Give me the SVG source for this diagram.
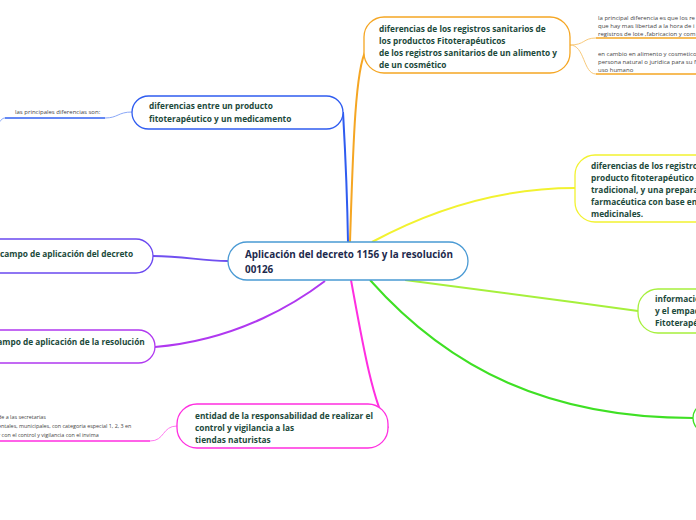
<svg xmlns="http://www.w3.org/2000/svg" width="696" height="520" viewBox="0 0 696 520">
<style>
.n{fill:#fff;stroke-width:1.3}
.t{font-family:"Open Sans","Noto Sans",sans-serif;font-weight:700;font-size:8.3px;fill:#1c4a3b}
.c{font-family:"Open Sans","Noto Sans",sans-serif;font-weight:700;font-size:9.9px;fill:#1d2a4d}
.s{font-family:"Open Sans","Noto Sans",sans-serif;font-size:5.4px;fill:#444}
.s6{font-size:6px}
.l{fill:none;stroke-width:2}
.b{fill:none;stroke-width:1}
</style>
<rect width="696" height="520" fill="#fff"/>
<g id="connectors">
<path class="l" stroke="#2f5cf0" d="M348,242 C347,180 344,130 343,112"/>
<path class="l" stroke="#f5a623" d="M350,242 C353,150 355,70 366,50"/>
<path class="l" stroke="#f2f230" d="M372,242 C450,200 520,188 575,188"/>
<path class="l" stroke="#a6f03c" d="M405,280 C480,290 560,300 638,311"/>
<path class="l" stroke="#3fe024" d="M370,280 C450,370 550,418 693,418"/>
<path class="l" stroke="#7050f0" d="M153,256 C185,256 200,261 228,261"/>
<path class="l" stroke="#b038f0" d="M155,347 C240,340 300,300 325,281"/>
<path class="l" stroke="#ff2ee0" d="M351,280 C362,340 372,400 388,428"/>
<path class="b" stroke="#8aa8f8" d="M132,112 C118,112 118,118 105,118"/>
<path fill="none" stroke="#3060f0" stroke-width="1.6" d="M105,118 L5,118"/>
<path class="b" stroke="#8aa8f8" d="M5,118 C2,118 0,121 -4,127"/>
<path class="b" stroke="#f8c97a" d="M570,45 C585,45 583,38 596,38"/>
<path class="b" stroke="#f8c97a" d="M570,45 C585,45 583,74 596,74"/>
<path fill="none" stroke="#f5a623" stroke-width="1.6" d="M596,38 L696,38 M596,74 L696,74"/>
<path class="b" stroke="#ff7af0" d="M177,426 C162,426 165,441 150,441"/>
<path fill="none" stroke="#ff2ee0" stroke-width="1.6" d="M150,441 L0,441"/>
</g>
<g id="center">
<rect class="n" x="228" y="242" width="240" height="38" rx="19" stroke="#4a9ad4" fill="#f8fcff"/>
<text class="c" x="245" y="258">Aplicación del decreto 1156 y la resolución</text>
<text class="c" x="245" y="273">00126</text>
</g>
<g id="node-medicamento">
<rect class="n" x="132" y="96" width="211" height="33" rx="16.5" stroke="#2f5cf0"/>
<text class="t" x="149" y="109">diferencias entre un producto</text>
<text class="t" x="149" y="122">fitoterapéutico y un medicamento</text>
</g>
<g id="leaf-principales">
<text class="s s6" x="15" y="114">las principales diferencias son:</text>
</g>
<g id="node-alimento">
<rect class="n" x="364" y="17" width="206" height="56" rx="20" stroke="#f5a623"/>
<text class="t" x="379" y="32">diferencias de  los registros sanitarios de</text>
<text class="t" x="379" y="44">los productos Fitoterapéuticos</text>
<text class="t" x="379" y="56">de los registros sanitarios de un alimento y</text>
<text class="t" x="379" y="68">de un cosmético</text>
</g>
<g id="leaf-orange-1">
<text class="s s6" x="598" y="20">la principal diferencia es que los re</text>
<text class="s s6" x="598" y="28">que hay mas libertad a la hora de i</text>
<text class="s s6" x="598" y="36">registros de lote ,fabricacion y com</text>
</g>
<g id="leaf-orange-2">
<text class="s s6" x="598" y="56">en cambio en alimento y cosmetico</text>
<text class="s s6" x="598" y="64">persona natural o juridica para su f</text>
<text class="s s6" x="598" y="72">uso humano</text>
</g>
<g id="node-tradicional">
<rect class="n" x="575" y="155" width="160" height="67" rx="20" stroke="#f2f230"/>
<text class="t" x="591" y="169">diferencias de los registros</text>
<text class="t" x="591" y="181">producto fitoterapéutico d</text>
<text class="t" x="591" y="193">tradicional, y una preparac</text>
<text class="t" x="591" y="205">farmacéutica con base en p</text>
<text class="t" x="591" y="217">medicinales.</text>
</g>
<g id="node-informacion">
<rect class="n" x="638" y="289" width="100" height="44" rx="20" stroke="#a6f03c"/>
<text class="t" x="655" y="302">informacio</text>
<text class="t" x="655" y="314">y el empac</text>
<text class="t" x="655" y="326">Fitoterapé</text>
</g>
<g id="node-green">
<rect class="n" x="693" y="403" width="50" height="30" rx="15" stroke="#3fe024"/>
</g>
<g id="node-decreto">
<rect class="n" x="-40" y="239" width="193" height="34" rx="17" stroke="#6a48f0"/>
<text class="t" x="0" y="257">campo de aplicación del decreto</text>
</g>
<g id="node-resolucion">
<rect class="n" x="-40" y="330" width="195" height="33" rx="16.5" stroke="#b038f0"/>
<text class="t" x="-7" y="345">campo de aplicación de la resolución</text>
</g>
<g id="node-entidad">
<rect class="n" x="177" y="404" width="211" height="44" rx="20" stroke="#ff2ee0"/>
<text class="t" x="195" y="419">entidad de  la responsabilidad de realizar el</text>
<text class="t" x="195" y="431">control y vigilancia a las</text>
<text class="t" x="195" y="443">tiendas naturistas</text>
</g>
<g id="leaf-magenta">
<text class="s" x="-2" y="419">de a las secretarias</text>
<text class="s" x="-2" y="428">entales, municipales, con categoria especial 1, 2, 3 en</text>
<text class="s" x="-2" y="437">r con el control y vigilancia con el invima</text>
</g>
</svg>
